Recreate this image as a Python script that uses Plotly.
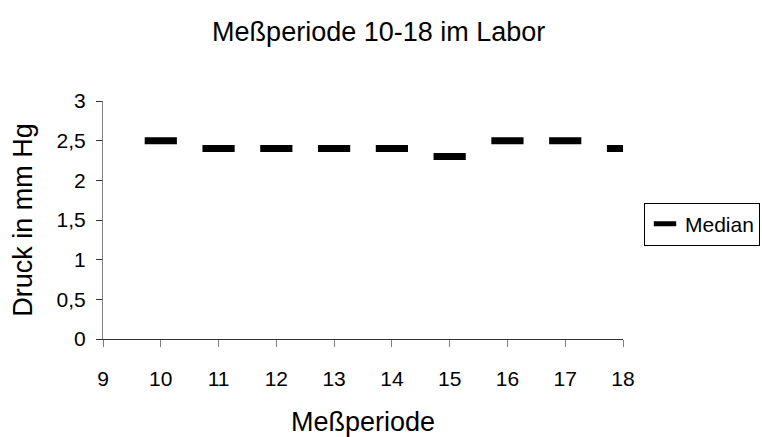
import plotly.graph_objects as go

# Median pressure per measurement period
perioden = [10, 11, 12, 13, 14, 15, 16, 17, 18]
median = [2.5, 2.4, 2.4, 2.4, 2.4, 2.3, 2.5, 2.5, 2.4]
x_ticks = list(range(9, 19))

FONT = "Liberation Sans, Arial, sans-serif"

fig = go.Figure()
fig.add_trace(go.Scatter(
    x=perioden,
    y=median,
    mode="markers",
    name="Median",
    marker=dict(symbol="line-ew", size=23, color="black",
                line=dict(color="black", width=7)),
))

fig.update_layout(
    width=762,
    height=437,
    margin=dict(l=103, r=139, t=101, b=98),
    paper_bgcolor="white",
    plot_bgcolor="white",
    separators=",.",
    font=dict(family=FONT, size=21, color="black"),
    title=dict(text="Meßperiode 10-18 im Labor", x=0.497, xref="container",
               y=1 - 32 / 437, yref="container", yanchor="middle",
               xanchor="center", font=dict(size=27, family=FONT)),
    xaxis=dict(
        range=[9, 18], tickmode="array", tickvals=x_ticks,
        ticktext=[str(v) for v in x_ticks],
        showline=True, linecolor="#333333", linewidth=1,
        ticks="outside", ticklen=7, tickcolor="#808080",
        ticklabelstandoff=14,
        showgrid=False, zeroline=False,
        title=dict(text="Meßperiode", font=dict(size=27), standoff=26),
        automargin=False,
    ),
    yaxis=dict(
        range=[0, 3], dtick=0.5, tickformat=".1~f",
        showline=True, linecolor="#808080", linewidth=1,
        ticks="outside", ticklen=6, tickcolor="#333333",
        ticklabelstandoff=6,
        showgrid=False, zeroline=False,
        title=dict(text="Druck in mm Hg", font=dict(size=27), standoff=16),
        automargin=False,
    ),
    showlegend=True,
    legend=dict(
        xref="container", yref="container",
        x=644 / 762, xanchor="left", y=1 - 224 / 437, yanchor="middle",
        bordercolor="black", borderwidth=1, bgcolor="white",
        font=dict(size=21), itemwidth=30,
        tracegroupgap=0,
    ),
)

fig.write_html("out.html")
